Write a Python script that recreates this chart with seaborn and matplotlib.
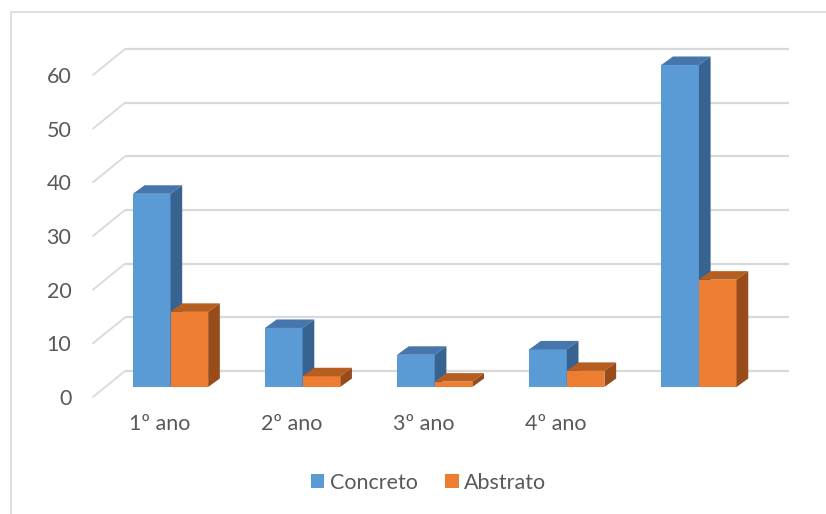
import matplotlib
matplotlib.use("Agg")
import matplotlib.pyplot as plt
from matplotlib.patches import Polygon, Patch
from matplotlib.lines import Line2D
import seaborn as sns
import pandas as pd

# ---- data ----
categories = ["1º ano", "2º ano", "3º ano", "4º ano", ""]
concreto = [36, 11, 6, 7, 60]
abstrato = [14, 2, 1, 3, 20]
series_names = ["Concreto", "Abstrato"]
y_ticks = [0, 10, 20, 30, 40, 50, 60]

# ---- style ----
front_colors = ["#5B9BD5", "#ED7D31"]
top_colors = ["#4676AC", "#B65D20"]
side_colors = ["#376390", "#994C1B"]
grid_color = "#D9D9D9"
text_color = "#595959"
fs = 15.5

sns.set_theme(style="white")
plt.rcParams["font.family"] = ["Lato", "DejaVu Sans"]

W, H = 826, 514
fig = plt.figure(figsize=(W / 100, H / 100), dpi=100)
fig.patch.set_facecolor("white")

# axes placement (pixel layout of the reference)
ax_left_px, ax_right_px = 93, 789
ax_top_px, ax_bot_px = 40, 397
ax = fig.add_axes([ax_left_px / W, 1 - ax_bot_px / H,
                   (ax_right_px - ax_left_px) / W, (ax_bot_px - ax_top_px) / H])

px_per_x = 132.1          # pixels per category step
px_per_v = 5.367          # pixels per value unit
x0_px = 170.5             # pixel of first group center
base_px = 387             # pixel of bar base (value 0)

df = pd.DataFrame({
    "cat": categories * 2,
    "val": concreto + abstrato,
    "serie": [series_names[0]] * len(categories) + [series_names[1]] * len(categories),
})

sns.barplot(data=df, x="cat", y="val", hue="serie", order=categories,
            hue_order=series_names, palette=front_colors, width=0.57,
            saturation=1, legend=False, ax=ax, linewidth=0, errorbar=None)

ax.set_xlim((ax_left_px - x0_px) / px_per_x, (ax_right_px - x0_px) / px_per_x)
ax.set_ylim(-(ax_bot_px - base_px) / px_per_v, (base_px - ax_top_px) / px_per_v)

# 3D depth of bars (data units)
ddx = 11.7 / px_per_x
ddy = 8.5 / px_per_v

bars = list(ax.patches)
n = len(categories)
for i, p in enumerate(bars):
    s = 0 if i < n else 1
    x, w, h = p.get_x(), p.get_width(), p.get_height()
    zf = 2 + 2 * s
    p.set_zorder(zf)
    if h <= 0:
        continue
    top = Polygon([(x, h), (x + w, h), (x + w + ddx, h + ddy), (x + ddx, h + ddy)],
                  closed=True, facecolor=top_colors[s], edgecolor="none", zorder=zf + 0.5)
    side = Polygon([(x + w, 0), (x + w, h), (x + w + ddx, h + ddy), (x + w + ddx, ddy)],
                   closed=True, facecolor=side_colors[s], edgecolor="none", zorder=zf + 0.5)
    ax.add_patch(top)
    ax.add_patch(side)

# back wall gridlines + side diagonals
back_dy = (base_px - 371) / px_per_v
front_dy = -(ax_bot_px - base_px) / px_per_v
back_x = (125 - x0_px) / px_per_x
front_x = (ax_left_px - x0_px) / px_per_x
right_x = (ax_right_px - x0_px) / px_per_x
for v in y_ticks:
    ax.add_line(Line2D([back_x, right_x], [v + back_dy, v + back_dy], color=grid_color,
                       lw=1.6, zorder=0.5, clip_on=False, solid_capstyle="butt"))
    ax.add_line(Line2D([front_x, back_x], [v + front_dy, v + back_dy], color=grid_color,
                       lw=1.3, zorder=0.5, clip_on=False))

# ticks
ax.set_yticks([v + front_dy for v in y_ticks])
ax.set_yticklabels([str(v) for v in y_ticks])
shift = 11 / px_per_x
ax.set_xticks([i - shift for i in range(n)])
ax.set_xticklabels(categories)
ax.tick_params(axis="y", length=0, pad=15.5, labelsize=fs, labelcolor=text_color)
ax.tick_params(axis="x", length=0, pad=12, labelsize=fs, labelcolor=text_color)
ax.set_xlabel("")
ax.set_ylabel("")
ax.grid(False)
for sp in ax.spines.values():
    sp.set_visible(False)
ax.set_facecolor("none")

# legend
handles = [Patch(facecolor=c, edgecolor="none") for c in front_colors]
fig.legend(handles, series_names, loc="center", bbox_to_anchor=(428.5 / W, 1 - 483 / H),
           ncol=2, frameon=False, fontsize=fs, labelcolor=text_color,
           handlelength=0.62, handleheight=0.62, handletextpad=0.25, columnspacing=1.3)

# chart border
fig.add_artist(Line2D([10.5 / W, 10.5 / W], [0, 1 - 12 / H], color=grid_color, lw=1.2,
                      transform=fig.transFigure))
fig.add_artist(Line2D([10.5 / W, 1], [1 - 12 / H, 1 - 12 / H], color=grid_color, lw=1.2,
                      transform=fig.transFigure))

fig.savefig("out.png", dpi=100)
